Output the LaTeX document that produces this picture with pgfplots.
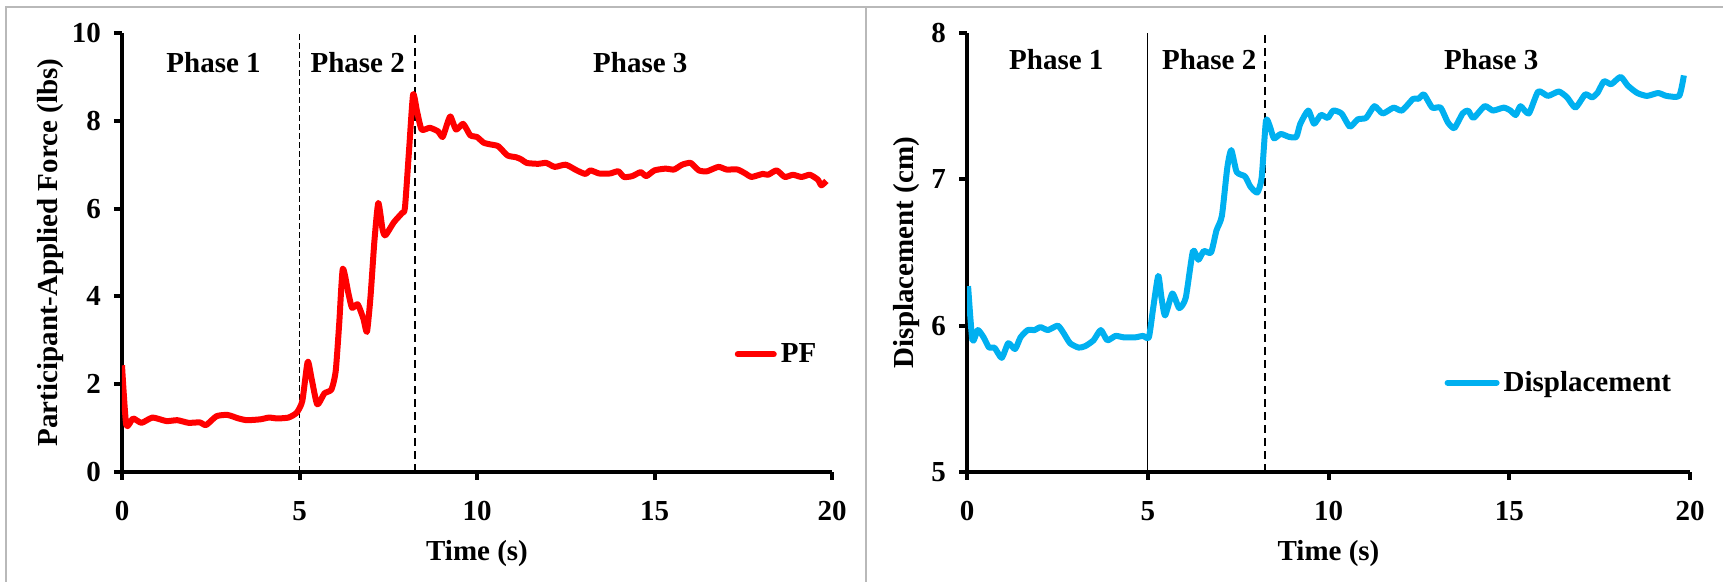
\documentclass[border=0pt]{standalone}
\usepackage{fontspec}
\setmainfont{Liberation Serif}
\usepackage{pgfplots}
\pgfplotsset{compat=1.18}
\definecolor{pfred}{RGB}{255,0,0}
\definecolor{dblue}{RGB}{0,176,240}
\definecolor{framegray}{RGB}{185,185,185}
\newcommand{\chartfont}{\bfseries\fontsize{14.5}{17}\selectfont}
\pgfplotsset{
  common/.style={
    scale only axis,
    height=219.5pt,
    xmin=0, xmax=20, xtick={0,5,10,15,20},
    axis lines=left,
    axis line style={line width=2pt, -},
    tick style={line width=2pt, black},
    tick align=outside,
    major tick length=4pt,
    /pgf/number format/assume math mode=true,
    ticklabel style={font=\chartfont},
    xticklabel style={yshift=-7pt},
    yticklabel style={xshift=-3pt},
    label style={font=\chartfont},
    xlabel={Time (s)},
    xlabel style={at={(axis description cs:0.5,-0.185)}, anchor=center},
    legend style={draw=none, fill=none, inner sep=0pt, font=\chartfont, anchor=west},
  }
}
\begin{document}
\begin{tikzpicture}
\path[use as bounding box] (0,0) rectangle (861.5pt,291pt);
\draw[framegray, line width=1pt] (3pt,0) -- (3pt,287.5pt) -- (861.5pt,287.5pt);
\draw[framegray, line width=1pt] (433pt,0) -- (433pt,287.5pt);

% ---------- left chart ----------
\begin{axis}[common,
  at={(61pt,55pt)}, anchor=south west,
  width=355pt,
  ymin=0, ymax=10, ytick={0,2,4,6,8,10},
  ylabel={Participant-Applied Force (lbs)},
  ylabel style={at={(axis description cs:-0.101,0.5)}, anchor=center, rotate=0},
  legend style={at={(axis cs:17.25,2.68)}},
  legend image code/.code={\draw[#1, line cap=round] (0pt,0pt) -- (18pt,0pt);},
]
\addplot[black, line width=0.7pt, dash pattern=on 3pt off 1.5pt, forget plot] coordinates {(5,0) (5,10)};
\addplot[black, line width=1pt, dash pattern=on 4pt off 2.5pt, forget plot] coordinates {(8.25,0) (8.25,10)};
\addplot[pfred, line width=3pt, line join=round, smooth, tension=0.35] coordinates {
(0,2.43) (0.12,1.07) (0.31,1.22) (0.55,1.12) (0.86,1.24) (1.25,1.16) (1.56,1.18)
(1.875,1.12) (2.19,1.13) (2.37,1.07) (2.66,1.27) (2.97,1.30) (3.28,1.22) (3.52,1.18)
(3.9,1.2) (4.14,1.24) (4.375,1.22) (4.69,1.24) (4.92,1.35) (5.08,1.62) (5.23,2.51)
(5.34,2.13) (5.5,1.54) (5.7,1.79) (5.9,1.88) (6.02,2.3) (6.12,3.4) (6.22,4.63)
(6.375,4.08) (6.48,3.74) (6.64,3.82) (6.8,3.49) (6.9,3.19) (7.0,3.99) (7.11,5.26)
(7.22,6.13) (7.34,5.52) (7.42,5.39) (7.66,5.69) (7.89,5.90) (7.97,6.02) (8.09,7.38)
(8.2,8.6) (8.31,8.22) (8.44,7.80) (8.67,7.84) (8.9,7.76) (9.03,7.63) (9.14,7.88)
(9.25,8.10) (9.41,7.80) (9.61,7.93) (9.81,7.67) (10.0,7.63) (10.19,7.50) (10.39,7.46)
(10.6,7.42) (10.86,7.21) (11.1,7.17) (11.25,7.12) (11.4,7.04) (11.72,7.02) (11.95,7.04)
(12.19,6.95) (12.5,7.0) (12.81,6.87) (13.05,6.79) (13.2,6.87) (13.44,6.8) (13.75,6.8)
(13.98,6.85) (14.14,6.72) (14.375,6.74) (14.61,6.83) (14.77,6.74) (15.0,6.87) (15.31,6.91)
(15.55,6.89) (15.78,7.0) (16.02,7.04) (16.25,6.87) (16.48,6.85) (16.8,6.95) (17.03,6.89)
(17.34,6.89) (17.58,6.79) (17.73,6.72) (18.05,6.79) (18.2,6.77) (18.44,6.87) (18.67,6.72)
(18.9,6.77) (19.14,6.72) (19.375,6.77) (19.6,6.66) (19.7,6.53) (19.84,6.63)
};
\addlegendentry{PF}
\node[font=\chartfont] at (axis cs:2.58,9.32) {Phase 1};
\node[font=\chartfont] at (axis cs:6.64,9.32) {Phase 2};
\node[font=\chartfont] at (axis cs:14.6,9.32) {Phase 3};
\end{axis}

% ---------- right chart ----------
\begin{axis}[common,
  at={(483.5pt,55pt)}, anchor=south west,
  width=361.5pt,
  ymin=5, ymax=8, ytick={5,6,7,8},
  ylabel={Displacement (cm)},
  ylabel style={at={(axis description cs:-0.083,0.5)}, anchor=center},
  legend style={at={(axis cs:13.2,5.61)}},
  legend image code/.code={\draw[#1, line cap=round] (0pt,0pt) -- (24.5pt,0pt);},
]
\addplot[black, line width=0.7pt, forget plot] coordinates {(5,5) (5,8)};
\addplot[black, line width=1pt, dash pattern=on 4pt off 2.5pt, forget plot] coordinates {(8.25,5) (8.25,8)};
\addplot[dblue, line width=3pt, line join=round, smooth, tension=0.35] coordinates {
(0.03,6.27) (0.15,5.90) (0.3,5.97) (0.46,5.92) (0.61,5.85) (0.76,5.85) (0.96,5.78)
(1.14,5.88) (1.33,5.84) (1.48,5.92) (1.68,5.97) (1.87,5.97) (2.03,5.99) (2.24,5.97)
(2.51,6.0) (2.67,5.95) (2.85,5.88) (3.09,5.85) (3.27,5.86) (3.5,5.90) (3.7,5.97)
(3.88,5.90) (4.11,5.93) (4.34,5.92) (4.65,5.92) (4.87,5.93) (5.03,5.92) (5.15,6.12)
(5.29,6.34) (5.38,6.19) (5.48,6.07) (5.68,6.22) (5.87,6.12) (6.05,6.19) (6.25,6.51)
(6.4,6.45) (6.55,6.51) (6.75,6.50) (6.9,6.65) (7.05,6.75) (7.2,7.08) (7.31,7.20)
(7.46,7.05) (7.69,7.02) (7.84,6.95) (8.03,6.91) (8.15,7.01) (8.27,7.40) (8.38,7.36)
(8.49,7.28) (8.68,7.31) (8.91,7.29) (9.11,7.29) (9.22,7.38) (9.44,7.47) (9.6,7.38)
(9.79,7.44) (9.98,7.42) (10.13,7.47) (10.36,7.45) (10.59,7.36) (10.81,7.41) (11.04,7.42)
(11.27,7.50) (11.5,7.45) (11.8,7.49) (12.03,7.47) (12.34,7.55) (12.49,7.55) (12.64,7.58)
(12.87,7.49) (13.1,7.49) (13.3,7.39) (13.48,7.35) (13.71,7.45) (13.86,7.47) (14.01,7.42)
(14.32,7.50) (14.55,7.47) (14.85,7.49) (15.03,7.47) (15.18,7.44) (15.31,7.50) (15.54,7.45)
(15.8,7.60) (16.07,7.57) (16.37,7.60) (16.6,7.56) (16.83,7.49) (17.1,7.58) (17.29,7.56)
(17.44,7.59) (17.62,7.67) (17.82,7.65) (18.08,7.70) (18.28,7.64) (18.54,7.59) (18.81,7.57)
(19.12,7.59) (19.35,7.57) (19.7,7.57) (19.83,7.71)
};
\addlegendentry{Displacement}
\node[font=\chartfont] at (axis cs:2.47,7.82) {Phase 1};
\node[font=\chartfont] at (axis cs:6.7,7.82) {Phase 2};
\node[font=\chartfont] at (axis cs:14.5,7.82) {Phase 3};
\end{axis}
\end{tikzpicture}
\end{document}
